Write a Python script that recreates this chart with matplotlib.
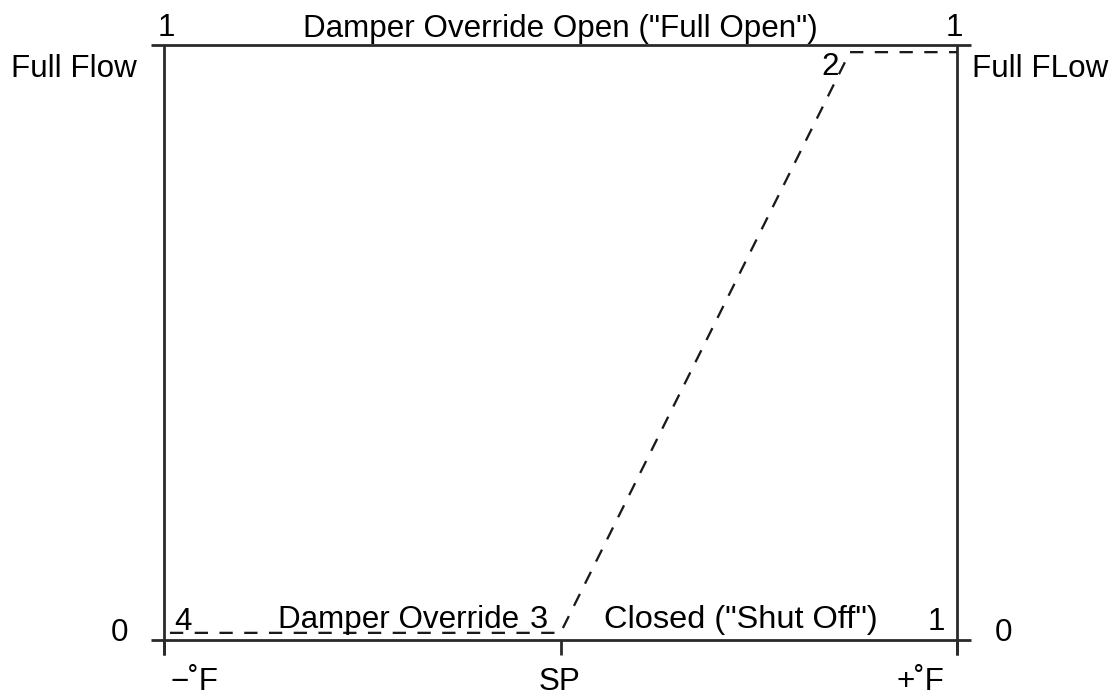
import matplotlib
matplotlib.use("Agg")
import matplotlib.pyplot as plt

plt.rcParams['font.family'] = ['Liberation Sans', 'DejaVu Sans']

# Data (x: -1 = -°F, 0 = SP, 1 = +°F ; y: 0 = shut off, 1 = full flow)
x_ticks = [-1, 0, 1]
x_tick_labels = ['\u2212\u02daF', 'SP', '+\u02daF']
curve_x = [-0.985, 0.0, 0.73, 1.0]
curve_y = [0.012, 0.012, 0.988, 0.988]
point_labels = ['4', '3', '2', '1']

W, H = 1115, 698
fig = plt.figure(figsize=(W / 100, H / 100), dpi=100)
L, R, T, B = 164, 957, 45, 640
ax = fig.add_axes([L / W, (H - B) / H, (R - L) / W, (B - T) / H])
ax.set_xlim(-1, 1)
ax.set_ylim(0, 1)
ax.axis('off')

def px(xp, yp):
    return (-1 + (xp - L) / ((R - L) / 2), (B - yp) / (B - T))

lc = '#2a2a2a'
lw = 2.0
# frame lines
x0, _ = px(151, 0)
x1, _ = px(971, 0)
_, ybot = px(0, 655)
ax.plot([x0, x1], [1, 1], color=lc, lw=lw, clip_on=False, solid_capstyle='butt')
ax.plot([x0, x1], [0, 0], color=lc, lw=lw, clip_on=False, solid_capstyle='butt')
ax.plot([-1, -1], [ybot, 1], color=lc, lw=lw, clip_on=False, solid_capstyle='butt')
ax.plot([1, 1], [ybot, 1], color=lc, lw=lw, clip_on=False, solid_capstyle='butt')
for xt in x_ticks:
    ax.plot([xt, xt], [ybot, 0], color=lc, lw=lw, clip_on=False, solid_capstyle='butt')

# dashed curve
ax.plot(curve_x, curve_y, color='#1a1a1a', lw=1.65, dashes=(5.8, 5.0), clip_on=False)

def txt(xp, yp, s, ha='center', fs=22.6):
    xd, yd = px(xp, yp)
    ax.text(xd, yd, s, ha=ha, va='baseline', fontsize=fs, color='black', clip_on=False)

# tick labels
for lab, xp in zip(x_tick_labels, [194, 560, 920]):
    txt(xp, 690, lab)

txt(166, 36, '1')
txt(560, 37, 'Damper Override Open ("Full Open")')
txt(954, 36, '1')
txt(137, 77, 'Full Flow', ha='right')
txt(972, 77, 'Full FLow', ha='left')
txt(830, 75, point_labels[2])
txt(183, 630, point_labels[0])
txt(519, 628, 'Damper Override', ha='right')
txt(539, 628, point_labels[1], fs=23.4)
txt(741, 628, 'Closed ("Shut Off")', fs=23.4)
txt(936, 630, point_labels[3])
txt(120, 641, '0')
txt(1004, 641, '0')

fig.savefig('out.png', dpi=100)
